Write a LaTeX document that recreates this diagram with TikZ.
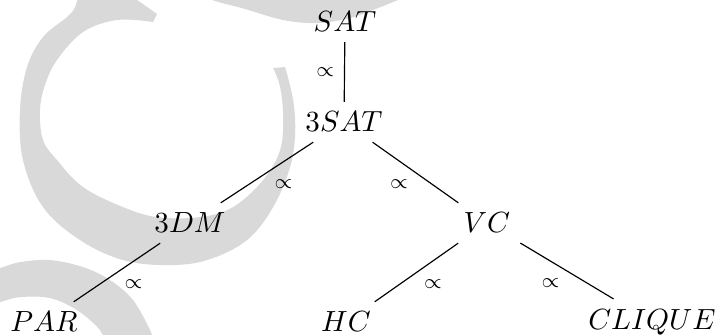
\documentclass[tikz,border=0pt]{standalone}
\usepackage{amsmath,amssymb}
\usetikzlibrary{positioning}
\definecolor{wmgray}{HTML}{D9D9D9}
\tikzset{
  prob/.style={inner sep=3.3pt},
  red/.style={draw=black, line width=0.4pt},
  redlab/.style={font=\scriptsize, midway, inner sep=2.3pt},
  wmark/.style={fill=wmgray, draw=none}
}
\begin{document}
\begin{tikzpicture}
  \useasboundingbox (0,0) rectangle (8.639,4.036);
  % watermark behind the tree
  \begin{scope}[x=0.012048cm, y=-0.012048cm, yshift=4.036cm]
    \clip (0,0) rectangle (717,335);
    \fill[wmark] plot[smooth, tension=0.6] coordinates {(80,-10) (75,7) (67,17) (43,37) (27,67) (20,110) (23,160) (43,207) (80,240) (123,260) (167,265) (207,260) (247,240) (273,207) (290,167) (295,133) (293,100) (285,67)}
      -- plot[smooth, tension=0.6] coordinates {(273,68) (280,87) (283,117) (280,150) (263,180) (233,207) (200,217) (157,217) (123,207) (83,187) (57,160) (43,140) (40,110) (45,85) (57,60) (83,32) (117,20) (153,22)}
      -- (157,14) -- (123,-10) -- cycle;
    \fill[wmark] plot[smooth, tension=0.6] coordinates {(200,-5) (215,1) (245,9) (283,20) (317,23) (350,18) (378,8) (405,-3)}
      -- (405,-20) -- (200,-20) -- cycle;
    \fill[wmark] plot[smooth, tension=0.6] coordinates {(-10,270) (0,268) (20,262) (50,260) (83,267) (110,280) (133,300) (150,330) (155,345)}
      -- plot[smooth, tension=0.6] coordinates {(105,345) (100,330) (77,310) (50,298) (20,297) (0,302) (-10,305)}
      -- cycle;
  \end{scope}
  % problems
  \node[prob] (sat) at (4.157,3.771) {$SAT$};
  \node[prob] (tsat) at (4.145,2.566) {$3SAT$};
  \node[prob] (tdm) at (2.289,1.349) {$3DM$};
  \node[prob] (vc) at (5.867,1.349) {$VC$};
  \node[prob] (par) at (0.530,0.157) {$PAR$};
  \node[prob] (hc) at (4.169,0.157) {$HC$};
  \node[prob] (clique) at (7.855,0.157) {$CLIQUE$};
  % reductions
  \draw[red] (sat) -- node[redlab, left=1pt] {$\propto$} (tsat);
  \draw[red] (tsat) -- node[redlab, below right] {$\propto$} (tdm);
  \draw[red] (tsat) -- node[redlab, below left] {$\propto$} (vc);
  \draw[red] (tdm) -- node[redlab, below right] {$\propto$} (par);
  \draw[red] (vc) -- node[redlab, below right] {$\propto$} (hc);
  \draw[red] (vc) -- node[redlab, below left] {$\propto$} (clique);
\end{tikzpicture}
\end{document}
